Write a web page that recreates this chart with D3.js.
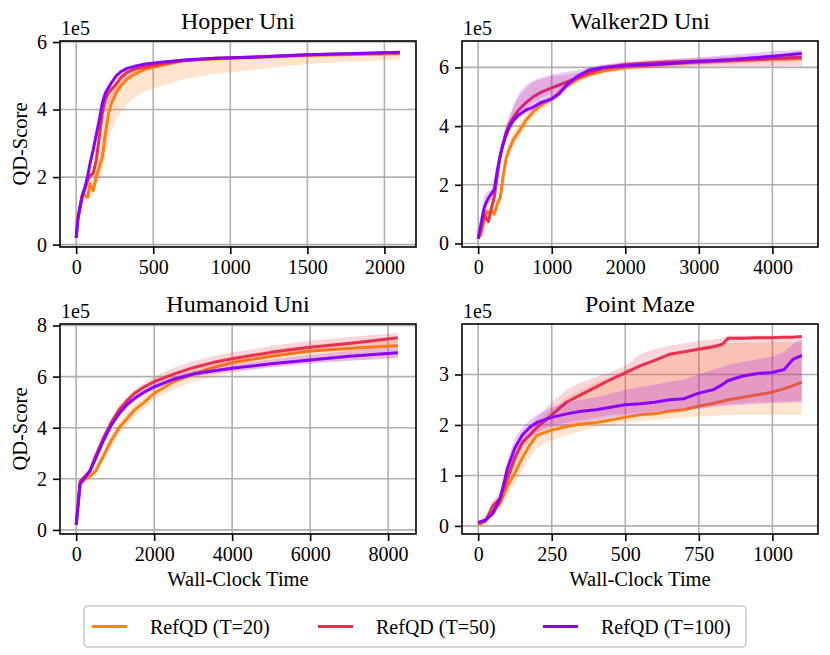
<!DOCTYPE html>
<html lang="en">
<head>
    <meta charset="UTF-8">
    <title>RefQD QD-Score vs Wall-Clock Time</title>
    <script src="https://d3js.org/d3.v7.min.js"></script>
    <style>
        body {
            margin: 0;
            background: #fff;
        }
        svg text {
            font-family: "Liberation Serif", "Times New Roman", serif;
            fill: #000;
        }
    </style>
</head>
<body>
    <svg id="chart" width="830" height="655"></svg>

    <script>
        // series
        const seriesNames = ['RefQD (T=20)', 'RefQD (T=50)', 'RefQD (T=100)'];
        const seriesColors = ['#ff7f0e', '#e8304f', '#8b00ff'];

        // Hopper Uni (values in 1e5)
        const hopperTime = [0, 10, 20, 40, 60, 75, 90, 110, 130, 150, 170, 190, 210, 230, 260, 290, 330, 380, 450, 550, 700, 900, 1200, 1500, 1800, 2100];
        const hopperT20 = [0.2, 0.9, 0.95, 1.5, 1.45, 1.4, 1.8, 1.6, 2.0, 2.3, 2.6, 3.3, 3.9, 4.2, 4.5, 4.7, 4.9, 5.05, 5.2, 5.3, 5.45, 5.5, 5.55, 5.6, 5.63, 5.65];
        const hopperT20Lo = [0.15, 0.6, 0.8, 1.3, 1.3, 1.25, 1.5, 1.45, 1.75, 1.95, 2.2, 2.6, 3.0, 3.35, 3.7, 3.95, 4.15, 4.35, 4.55, 4.7, 4.9, 5.05, 5.2, 5.35, 5.42, 5.47];
        const hopperT20Hi = [0.25, 1.0, 1.1, 1.6, 1.6, 1.6, 1.95, 1.9, 2.4, 2.9, 3.4, 3.9, 4.3, 4.5, 4.7, 4.9, 5.1, 5.2, 5.3, 5.38, 5.48, 5.53, 5.58, 5.63, 5.66, 5.68];
        const hopperT50 = [0.2, 0.75, 1.0, 1.45, 1.7, 1.9, 2.05, 2.1, 2.5, 3.2, 3.9, 4.3, 4.5, 4.6, 4.75, 4.95, 5.1, 5.2, 5.27, 5.35, 5.45, 5.52, 5.56, 5.62, 5.65, 5.68];
        const hopperT50Lo = [0.15, 0.65, 0.9, 1.35, 1.6, 1.8, 1.95, 2.0, 2.3, 2.9, 3.5, 3.9, 4.15, 4.3, 4.5, 4.75, 4.95, 5.1, 5.19, 5.3, 5.41, 5.49, 5.53, 5.59, 5.62, 5.65];
        const hopperT50Hi = [0.25, 0.85, 1.1, 1.55, 1.8, 2.0, 2.15, 2.25, 2.7, 3.4, 4.05, 4.4, 4.6, 4.7, 4.85, 5.05, 5.17, 5.25, 5.32, 5.39, 5.48, 5.55, 5.59, 5.65, 5.68, 5.71];
        const hopperT100 = [0.2, 0.7, 1.0, 1.45, 1.75, 2.05, 2.4, 2.8, 3.25, 3.7, 4.2, 4.5, 4.65, 4.8, 5.0, 5.12, 5.22, 5.28, 5.35, 5.4, 5.47, 5.52, 5.56, 5.62, 5.66, 5.7];
        const hopperT100Lo = [0.17, 0.63, 0.92, 1.38, 1.67, 1.95, 2.3, 2.65, 3.05, 3.5, 4.0, 4.35, 4.55, 4.72, 4.93, 5.06, 5.17, 5.24, 5.31, 5.37, 5.44, 5.5, 5.54, 5.6, 5.64, 5.68];
        const hopperT100Hi = [0.23, 0.77, 1.08, 1.52, 1.83, 2.15, 2.5, 2.9, 3.4, 3.85, 4.3, 4.58, 4.72, 4.86, 5.05, 5.17, 5.26, 5.32, 5.38, 5.43, 5.5, 5.54, 5.58, 5.64, 5.68, 5.72];

        // Walker2D Uni
        const walkerTime = [0, 40, 80, 110, 140, 180, 220, 260, 300, 340, 380, 420, 480, 550, 650, 750, 850, 1000, 1100, 1200, 1350, 1500, 1700, 2000, 2500, 3000, 3500, 4000, 4400];
        const walkerT20 = [0.2, 0.3, 0.8, 1.1, 1.05, 1.1, 1.0, 1.35, 1.55, 2.3, 2.9, 3.2, 3.55, 3.8, 4.2, 4.5, 4.7, 4.93, 5.15, 5.35, 5.6, 5.75, 5.88, 6.0, 6.1, 6.18, 6.23, 6.28, 6.3];
        const walkerT20Lo = [0.15, 0.2, 0.65, 0.9, 0.9, 0.95, 0.9, 1.2, 1.4, 2.1, 2.7, 3.0, 3.35, 3.6, 4.0, 4.3, 4.55, 4.8, 5.0, 5.22, 5.48, 5.65, 5.78, 5.9, 6.0, 6.08, 6.13, 6.18, 6.2];
        const walkerT20Hi = [0.25, 0.4, 0.95, 1.3, 1.25, 1.25, 1.2, 1.5, 1.75, 2.5, 3.1, 3.45, 3.8, 4.05, 4.4, 4.65, 4.85, 5.05, 5.28, 5.48, 5.7, 5.85, 5.97, 6.08, 6.18, 6.26, 6.31, 6.36, 6.38];
        const walkerT50 = [0.2, 0.5, 1.0, 0.85, 0.75, 1.2, 1.6, 2.3, 3.0, 3.4, 3.8, 4.05, 4.3, 4.55, 4.8, 5.0, 5.15, 5.3, 5.4, 5.5, 5.65, 5.8, 5.98, 6.1, 6.18, 6.22, 6.25, 6.3, 6.35];
        const walkerT50Lo = [0.15, 0.4, 0.85, 0.7, 0.6, 1.0, 1.4, 2.1, 2.8, 3.25, 3.65, 3.9, 4.15, 4.35, 4.6, 4.8, 4.95, 5.1, 5.25, 5.38, 5.55, 5.7, 5.85, 5.95, 6.0, 6.03, 6.04, 6.04, 6.05];
        const walkerT50Hi = [0.25, 0.6, 1.15, 1.05, 0.95, 1.4, 1.8, 2.5, 3.2, 3.6, 4.0, 4.3, 4.65, 5.0, 5.3, 5.5, 5.6, 5.7, 5.72, 5.75, 5.82, 5.92, 6.08, 6.2, 6.28, 6.33, 6.38, 6.42, 6.45];
        const walkerT100 = [0.15, 0.7, 1.2, 1.4, 1.55, 1.7, 1.85, 2.5, 3.0, 3.4, 3.7, 3.95, 4.2, 4.38, 4.55, 4.65, 4.8, 4.93, 5.1, 5.4, 5.7, 5.9, 6.0, 6.06, 6.12, 6.2, 6.28, 6.38, 6.47];
        const walkerT100Lo = [0.1, 0.55, 1.0, 1.2, 1.35, 1.5, 1.65, 2.3, 2.8, 3.25, 3.55, 3.8, 4.05, 4.25, 4.45, 4.55, 4.7, 4.85, 5.0, 5.3, 5.6, 5.82, 5.92, 5.98, 6.04, 6.1, 6.17, 6.25, 6.3];
        const walkerT100Hi = [0.2, 0.9, 1.6, 1.75, 1.8, 1.82, 1.9, 2.7, 3.25, 3.6, 3.95, 4.3, 4.7, 5.1, 5.4, 5.55, 5.65, 5.75, 5.8, 5.85, 5.9, 6.0, 6.1, 6.16, 6.25, 6.35, 6.45, 6.55, 6.6];

        // Humanoid Uni
        const humanoidTime = [0, 100, 200, 350, 500, 700, 900, 1100, 1300, 1500, 1750, 2000, 2500, 3000, 3500, 4000, 5000, 6000, 7000, 8250];
        const humanoidT20 = [0.2, 1.8, 1.95, 2.1, 2.3, 2.9, 3.5, 4.0, 4.35, 4.7, 5.0, 5.35, 5.8, 6.1, 6.35, 6.55, 6.8, 7.0, 7.1, 7.22];
        const humanoidT20Lo = [0.15, 1.65, 1.8, 1.95, 2.15, 2.7, 3.25, 3.75, 4.1, 4.45, 4.75, 5.1, 5.5, 5.8, 6.0, 6.15, 6.4, 6.55, 6.62, 6.7];
        const humanoidT20Hi = [0.25, 1.95, 2.1, 2.25, 2.5, 3.1, 3.75, 4.25, 4.6, 4.95, 5.25, 5.55, 6.0, 6.3, 6.55, 6.75, 7.05, 7.25, 7.38, 7.5];
        const humanoidT50 = [0.2, 1.9, 2.05, 2.3, 2.9, 3.6, 4.2, 4.7, 5.05, 5.35, 5.6, 5.8, 6.1, 6.35, 6.55, 6.7, 6.95, 7.15, 7.3, 7.52];
        const humanoidT50Lo = [0.15, 1.8, 1.95, 2.2, 2.75, 3.45, 4.05, 4.55, 4.9, 5.2, 5.45, 5.62, 5.9, 6.15, 6.35, 6.5, 6.75, 6.95, 7.1, 7.3];
        const humanoidT50Hi = [0.25, 2.0, 2.15, 2.4, 3.05, 3.75, 4.35, 4.85, 5.2, 5.5, 5.78, 6.0, 6.35, 6.6, 6.8, 6.95, 7.2, 7.4, 7.55, 7.72];
        const humanoidT100 = [0.2, 1.8, 2.0, 2.3, 2.8, 3.5, 4.1, 4.55, 4.9, 5.15, 5.4, 5.6, 5.9, 6.1, 6.22, 6.33, 6.5, 6.65, 6.8, 6.93];
        const humanoidT100Lo = [0.15, 1.7, 1.9, 2.2, 2.7, 3.4, 4.0, 4.45, 4.8, 5.05, 5.3, 5.5, 5.8, 6.0, 6.1, 6.2, 6.35, 6.5, 6.62, 6.75];
        const humanoidT100Hi = [0.25, 1.9, 2.1, 2.4, 2.9, 3.6, 4.2, 4.65, 5.0, 5.25, 5.5, 5.7, 6.0, 6.2, 6.35, 6.48, 6.68, 6.85, 7.0, 7.2];

        // Point Maze
        const mazeTime = [0, 25, 50, 75, 100, 125, 150, 175, 200, 250, 300, 350, 400, 450, 500, 550, 600, 650, 700, 750, 800, 830, 850, 900, 950, 1000, 1040, 1070, 1100];
        const mazeT20 = [0.02, 0.1, 0.3, 0.45, 0.8, 1.05, 1.35, 1.6, 1.8, 1.9, 1.97, 2.02, 2.05, 2.1, 2.15, 2.2, 2.22, 2.27, 2.3, 2.37, 2.43, 2.47, 2.5, 2.55, 2.6, 2.65, 2.72, 2.78, 2.85];
        const mazeT20Lo = [0.0, 0.05, 0.2, 0.35, 0.6, 0.85, 1.1, 1.35, 1.55, 1.7, 1.8, 1.88, 1.95, 2.0, 2.05, 2.08, 2.1, 2.12, 2.15, 2.17, 2.18, 2.19, 2.19, 2.2, 2.2, 2.2, 2.2, 2.2, 2.2];
        const mazeT20Hi = [0.05, 0.15, 0.4, 0.55, 0.95, 1.3, 1.6, 1.85, 2.05, 2.3, 2.55, 2.7, 2.85, 2.95, 3.1, 3.2, 3.3, 3.4, 3.48, 3.55, 3.6, 3.61, 3.62, 3.63, 3.63, 3.64, 3.64, 3.64, 3.64];
        const mazeT50 = [0.05, 0.1, 0.4, 0.55, 0.95, 1.35, 1.65, 1.8, 1.95, 2.2, 2.45, 2.6, 2.75, 2.9, 3.03, 3.17, 3.28, 3.4, 3.45, 3.5, 3.55, 3.6, 3.72, 3.72, 3.73, 3.73, 3.74, 3.74, 3.75];
        const mazeT50Lo = [0.02, 0.05, 0.2, 0.4, 0.8, 1.2, 1.5, 1.7, 1.85, 2.0, 2.05, 2.1, 2.15, 2.2, 2.22, 2.24, 2.27, 2.3, 2.33, 2.35, 2.38, 2.4, 2.41, 2.43, 2.45, 2.46, 2.47, 2.47, 2.48];
        const mazeT50Hi = [0.08, 0.15, 0.5, 0.7, 1.1, 1.5, 1.85, 2.0, 2.15, 2.45, 2.7, 2.85, 2.95, 3.05, 3.17, 3.4, 3.5, 3.57, 3.62, 3.67, 3.7, 3.72, 3.77, 3.77, 3.77, 3.77, 3.77, 3.77, 3.77];
        const mazeT100 = [0.07, 0.12, 0.25, 0.55, 1.15, 1.55, 1.8, 1.95, 2.05, 2.15, 2.22, 2.27, 2.3, 2.35, 2.4, 2.42, 2.45, 2.5, 2.52, 2.63, 2.7, 2.8, 2.88, 2.97, 3.02, 3.04, 3.1, 3.3, 3.38];
        const mazeT100Lo = [0.05, 0.1, 0.2, 0.45, 1.0, 1.35, 1.6, 1.75, 1.85, 1.95, 2.0, 2.05, 2.1, 2.15, 2.18, 2.2, 2.23, 2.27, 2.3, 2.32, 2.35, 2.37, 2.38, 2.4, 2.42, 2.43, 2.44, 2.44, 2.45];
        const mazeT100Hi = [0.09, 0.15, 0.3, 0.65, 1.3, 1.75, 1.95, 2.1, 2.2, 2.35, 2.45, 2.5, 2.55, 2.62, 2.7, 2.75, 2.8, 2.85, 2.9, 3.0, 3.1, 3.15, 3.2, 3.25, 3.3, 3.35, 3.45, 3.6, 3.7];

        // tick labels
        const hopperXTicks = [0, 500, 1000, 1500, 2000];
        const walkerXTicks = [0, 1000, 2000, 3000, 4000];
        const humanoidXTicks = [0, 2000, 4000, 6000, 8000];
        const mazeXTicks = [0, 250, 500, 750, 1000];
        const scoreTicks6 = [0, 2, 4, 6];
        const scoreTicks8 = [0, 2, 4, 6, 8];
        const mazeYTicks = [0, 1, 2, 3];

        const panels = [
            {
                title: 'Hopper Uni', x: 60, y: 41, w: 356, h: 206,
                xDomain: [-105, 2205], yDomain: [-0.07, 6.03],
                xTicks: hopperXTicks, yTicks: scoreTicks6, ylabel: true, xlabel: false,
                time: hopperTime,
                means: [hopperT20, hopperT50, hopperT100],
                los: [hopperT20Lo, hopperT50Lo, hopperT100Lo],
                his: [hopperT20Hi, hopperT50Hi, hopperT100Hi]
            },
            {
                title: 'Walker2D Uni', x: 462, y: 41, w: 356, h: 206,
                xDomain: [-220, 4620], yDomain: [-0.12, 6.9],
                xTicks: walkerXTicks, yTicks: scoreTicks6, ylabel: false, xlabel: false,
                time: walkerTime,
                means: [walkerT20, walkerT50, walkerT100],
                los: [walkerT20Lo, walkerT50Lo, walkerT100Lo],
                his: [walkerT20Hi, walkerT50Hi, walkerT100Hi]
            },
            {
                title: 'Humanoid Uni', x: 60, y: 324, w: 356, h: 210,
                xDomain: [-415, 8715], yDomain: [-0.16, 8.06],
                xTicks: humanoidXTicks, yTicks: scoreTicks8, ylabel: true, xlabel: true,
                time: humanoidTime,
                means: [humanoidT20, humanoidT50, humanoidT100],
                los: [humanoidT20Lo, humanoidT50Lo, humanoidT100Lo],
                his: [humanoidT20Hi, humanoidT50Hi, humanoidT100Hi]
            },
            {
                title: 'Point Maze', x: 462, y: 324, w: 356, h: 210,
                xDomain: [-55, 1155], yDomain: [-0.16, 4.0],
                xTicks: mazeXTicks, yTicks: mazeYTicks, ylabel: false, xlabel: true,
                time: mazeTime,
                means: [mazeT20, mazeT50, mazeT100],
                los: [mazeT20Lo, mazeT50Lo, mazeT100Lo],
                his: [mazeT20Hi, mazeT50Hi, mazeT100Hi]
            }
        ];

        const svg = d3.select('#chart');

        panels.forEach(p => {
            const g = svg.append('g').attr('transform', `translate(${p.x},${p.y})`);
            const x = d3.scaleLinear().domain(p.xDomain).range([0, p.w]);
            const y = d3.scaleLinear().domain(p.yDomain).range([p.h, 0]);

            // grid
            g.append('g').selectAll('line').data(p.xTicks).enter().append('line')
                .attr('x1', d => x(d)).attr('x2', d => x(d))
                .attr('y1', 0).attr('y2', p.h)
                .attr('stroke', '#b0b0b0').attr('stroke-width', 1.6);
            g.append('g').selectAll('line').data(p.yTicks).enter().append('line')
                .attr('x1', 0).attr('x2', p.w)
                .attr('y1', d => y(d)).attr('y2', d => y(d))
                .attr('stroke', '#b0b0b0').attr('stroke-width', 1.6);

            // bands + lines
            p.means.forEach((mean, s) => {
                const rows = p.time.map((t, i) => ({ t: t, m: mean[i], lo: p.los[s][i], hi: p.his[s][i] }));
                const area = d3.area().x(d => x(d.t)).y0(d => y(d.lo)).y1(d => y(d.hi));
                const line = d3.line().x(d => x(d.t)).y(d => y(d.m));
                g.append('path').datum(rows)
                    .attr('d', area)
                    .attr('fill', seriesColors[s])
                    .attr('fill-opacity', 0.2);
                g.append('path').datum(rows)
                    .attr('d', line)
                    .attr('fill', 'none')
                    .attr('stroke', seriesColors[s])
                    .attr('stroke-width', 3)
                    .attr('stroke-linejoin', 'round');
            });

            // axes
            const xAxis = d3.axisBottom(x).tickValues(p.xTicks).tickSize(7).tickPadding(6).tickFormat(d3.format('d'));
            const yAxis = d3.axisLeft(y).tickValues(p.yTicks).tickSize(7).tickPadding(6).tickFormat(d3.format('d'));
            const gx = g.append('g').attr('transform', `translate(0,${p.h})`).call(xAxis);
            const gy = g.append('g').call(yAxis);
            [gx, gy].forEach(a => {
                a.select('.domain').remove();
                a.selectAll('line').attr('stroke', '#000').attr('stroke-width', 1.6);
                a.selectAll('text').style('font-size', '20px').attr('fill', '#000');
            });

            // frame
            g.append('rect')
                .attr('width', p.w).attr('height', p.h)
                .attr('fill', 'none').attr('stroke', '#000').attr('stroke-width', 1.6);

            // offset text
            g.append('text').attr('x', 1).attr('y', -6)
                .style('font-size', '20px').text('1e5');

            g.append('text')
                .attr('x', p.w / 2).attr('y', -12)
                .attr('text-anchor', 'middle')
                .style('font-size', '24px')
                .text(p.title);

            if (p.ylabel) {
                g.append('text')
                    .attr('transform', `translate(-33,${p.h / 2}) rotate(-90)`)
                    .attr('text-anchor', 'middle')
                    .style('font-size', '20.5px')
                    .text('QD-Score');
            }
            if (p.xlabel) {
                g.append('text')
                    .attr('x', p.w / 2).attr('y', p.h + 52)
                    .attr('text-anchor', 'middle')
                    .style('font-size', '20.5px')
                    .text('Wall-Clock Time');
            }
        });

        // legend
        const legend = svg.append('g').attr('transform', 'translate(84,606)');
        legend.append('rect')
            .attr('width', 662).attr('height', 41).attr('rx', 4)
            .attr('fill', '#fff').attr('stroke', '#cccccc').attr('stroke-width', 1.6);
        const itemX = [8, 234, 459];
        seriesNames.forEach((name, i) => {
            legend.append('line')
                .attr('x1', itemX[i]).attr('x2', itemX[i] + 35)
                .attr('y1', 20.5).attr('y2', 20.5)
                .attr('stroke', seriesColors[i]).attr('stroke-width', 3);
            legend.append('text')
                .attr('x', itemX[i] + 58).attr('y', 27.5)
                .style('font-size', '20px')
                .text(name);
        });
    </script>
</body>
</html>
